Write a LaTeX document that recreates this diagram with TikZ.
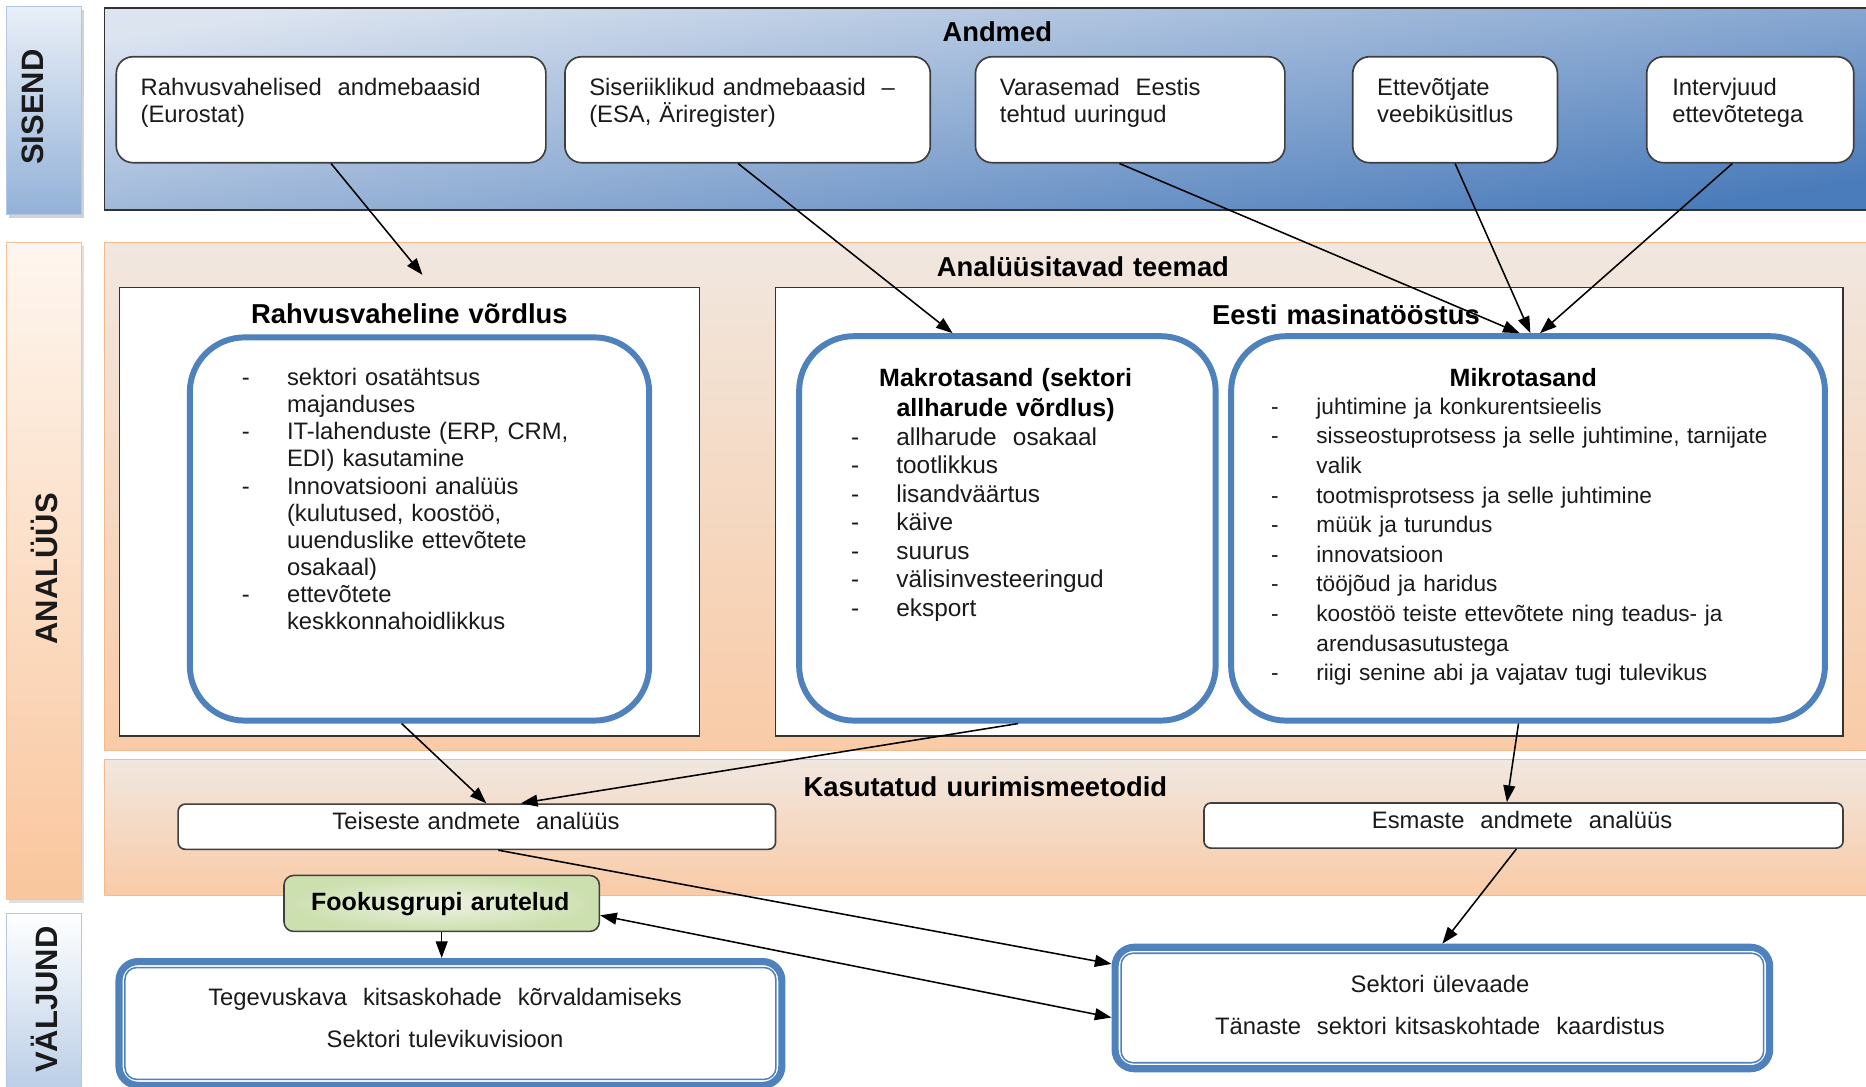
\documentclass[tikz,border=0pt]{standalone}
\usepackage{fontspec}
\setmainfont{Liberation Sans}
\usetikzlibrary{arrows.meta,calc,shadows}
\definecolor{txt}{HTML}{1A1A1A}
\definecolor{bord}{HTML}{3F3F3F}
\definecolor{accblue}{HTML}{4F81BD}
\definecolor{bandtop}{HTML}{DCE4F0}
\definecolor{bandmid}{HTML}{AFC2DD}
\definecolor{bandbot}{HTML}{4A7BBA}
\definecolor{sisTop}{HTML}{E9EFF7}
\definecolor{sisBot}{HTML}{92B1D8}
\definecolor{sisBord}{HTML}{B4C7E2}
\definecolor{anTop}{HTML}{FEF6EF}
\definecolor{anBot}{HTML}{F9C69D}
\definecolor{anBord}{HTML}{F7C29A}
\definecolor{panTop}{HTML}{F1E7DF}
\definecolor{panBot}{HTML}{F9CBA7}
\definecolor{panBord}{HTML}{F5B98C}
\definecolor{valTop}{HTML}{FFFFFF}
\definecolor{valBot}{HTML}{B5CAE5}
\definecolor{fookIn}{HTML}{EDF3E2}
\definecolor{fookOut}{HTML}{CCDFAE}
\newcommand{\dsh}{\makebox[38pt][l]{-}}
\newcommand{\ind}{\hspace*{38pt}}
\begin{document}
\begin{tikzpicture}[x=1pt,y=-1pt,
  sidelab/.style={anchor=north west, inner sep=0, line width=1pt},
  sidetxt/.style={rotate=90, font=\bfseries\fontsize{26}{30}\selectfont, text=txt, inner sep=0},
  panel/.style={anchor=north west, inner sep=0, draw=panBord, line width=1pt, top color=panTop, bottom color=panBot},
  inbox/.style={anchor=north west, inner sep=0, draw=bord, line width=1.4pt, fill=white, rounded corners=14pt},
  whitebox/.style={anchor=north west, inner sep=0, draw=black!80, line width=1.2pt, fill=white},
  bluebox/.style={anchor=north west, inner sep=0, draw=accblue, line width=5pt, fill=white, rounded corners=46pt},
  methbox/.style={anchor=north west, inner sep=0, draw=bord, line width=1.4pt, fill=white, rounded corners=6pt},
  outbox/.style={anchor=north west, inner sep=0, draw=accblue, line width=6pt, fill=white, rounded corners=16pt},
  outinner/.style={draw=accblue, line width=1.3pt, rounded corners=10pt},
  body/.style={inner sep=0, text=txt, font=\fontsize{20}{23}\selectfont, text width=430pt, align=left, anchor=base west},
  ctext/.style={inner sep=0, text=txt, font=\fontsize{20}{23}\selectfont, text width=500pt, align=center, anchor=base},
  ttl/.style={inner sep=0, text=black, font=\bfseries\fontsize{23}{27}\selectfont, text width=500pt, align=center, anchor=base},
  arr/.style={draw=black, line width=1.3pt, -{Triangle[length=14pt,width=10pt]}},
  arrboth/.style={draw=black, line width=1.3pt, {Triangle[length=14pt,width=10pt]}-{Triangle[length=14pt,width=10pt]}},
]
\useasboundingbox (0,0) rectangle (1568,913);
\fill[white] (0,0) rectangle (1568,913);

% side labels
\node[sidelab, minimum width=63, minimum height=175, draw=sisBord, top color=sisTop, bottom color=sisBot, drop shadow={opacity=0.35,shadow xshift=2pt,shadow yshift=-3pt}] (sisbox) at (5,5) {};
\node[sidetxt] (sistxt) at (28,90) {SISEND};
\node[sidelab, minimum width=63, minimum height=552, draw=anBord, top color=anTop, bottom color=anBot, drop shadow={opacity=0.25,shadow xshift=2pt,shadow yshift=-3pt}] (anbox) at (5,203) {};
\node[sidetxt] (antxt) at (37,478) {ANALÜÜS};
\node[sidelab, minimum width=63, minimum height=160, draw=sisBord, top color=valTop, bottom color=valBot] (valbox) at (5,767) {};
\node[sidetxt] (valtxt) at (37,840) {VÄLJUND};

% top band
\node[anchor=north west, inner sep=0, minimum width=1490, minimum height=170, draw=black!80, line width=1.5pt, top color=bandtop, middle color=bandmid, bottom color=bandbot, shading angle=9] (band) at (87,6) {};
\node[ttl] (andmed) at (838,35) {Andmed};

\node[inbox, minimum width=361, minimum height=89] (in1) at (97,47) {};
\node[body] (in1t) at (118,80) {Rahvusvahelised\ \ andmebaasid\\(Eurostat)};
\node[inbox, minimum width=307, minimum height=89] (in2) at (474,47) {};
\node[body] (in2t) at (495,80) {Siseriiklikud andmebaasid\ \ --\\(ESA, Äriregister)};
\node[inbox, minimum width=260, minimum height=89] (in3) at (819,47) {};
\node[body] (in3t) at (840,80) {Varasemad\ \ Eestis\\tehtud uuringud};
\node[inbox, minimum width=172, minimum height=89] (in4) at (1136,47) {};
\node[body] (in4t) at (1157,80) {Ettevõtjate\\veebiküsitlus};
\node[inbox, minimum width=174, minimum height=89] (in5) at (1383,47) {};
\node[body] (in5t) at (1405,80) {Intervjuud\\ettevõtetega};

% analysis panels
\node[panel, minimum width=1490, minimum height=427] (panA) at (87,203) {};
\node[ttl] (panAt) at (910,232) {Analüüsitavad teemad};
\node[panel, minimum width=1490, minimum height=114] (panB) at (87,638) {};
\node[ttl] (panBt) at (828,669) {Kasutatud uurimismeetodid};

\node[whitebox, minimum width=487, minimum height=377] (rahvw) at (100,241) {};
\node[ttl] (rahvt) at (344,272) {Rahvusvaheline võrdlus};
\node[whitebox, minimum width=897, minimum height=377] (eestiw) at (651,241) {};
\node[ttl] (eestit) at (1131,273) {Eesti masinatööstus};

\node[bluebox, minimum width=386, minimum height=322] (rahvb) at (157,281) {};
\node[bluebox, minimum width=350, minimum height=323] (makro) at (669,280) {};
\node[bluebox, minimum width=499, minimum height=323] (mikro) at (1032,280) {};

\node[body, font=\fontsize{20}{22.8}\selectfont] (rahvl) at (203,324) {\dsh sektori osatähtsus\\\ind majanduses\\\dsh IT-lahenduste (ERP, CRM,\\\ind EDI) kasutamine\\\dsh Innovatsiooni analüüs\\\ind (kulutused, koostöö,\\\ind uuenduslike ettevõtete\\\ind osakaal)\\\dsh ettevõtete\\\ind keskkonnahoidlikkus};

\node[ttl, font=\bfseries\fontsize{21}{25}\selectfont] (makrot) at (845,325) {Makrotasand (sektori\\allharude võrdlus)};
\node[body, font=\fontsize{20.5}{24}\selectfont] (makrol) at (715,374) {\dsh allharude\ \ osakaal\\\dsh tootlikkus\\\dsh lisandväärtus\\\dsh käive\\\dsh suurus\\\dsh välisinvesteeringud\\\dsh eksport};

\node[ttl, font=\bfseries\fontsize{21}{25}\selectfont] (mikrot) at (1280,325) {Mikrotasand};
\node[body, font=\fontsize{19}{24.9}\selectfont] (mikrol) at (1068,348) {\dsh juhtimine ja konkurentsieelis\\\dsh sisseostuprotsess ja selle juhtimine, tarnijate\\\ind valik\\\dsh tootmisprotsess ja selle juhtimine\\\dsh müük ja turundus\\\dsh innovatsioon\\\dsh tööjõud ja haridus\\\dsh koostöö teiste ettevõtete ning teadus- ja\\\ind arendusasutustega\\\dsh riigi senine abi ja vajatav tugi tulevikus};

% methods
\node[methbox, minimum width=502, minimum height=38] (teis) at (149,675) {};
\node[ctext] (teist) at (400,697) {Teiseste andmete\ \ analüüs};
\node[methbox, minimum width=537, minimum height=38] (esm) at (1011,674) {};
\node[ctext] (esmt) at (1279,696) {Esmaste\ \ andmete\ \ analüüs};

\node[anchor=north west, inner sep=0, minimum width=265, minimum height=47, draw=bord, line width=1.3pt, rounded corners=8pt, inner color=fookIn, outer color=fookOut] (fook) at (238,735) {};
\node[ttl, font=\bfseries\fontsize{21}{25}\selectfont] (fookt) at (370,765) {Fookusgrupi arutelud};

% outputs
\node[outbox, minimum width=557, minimum height=104] (out1) at (97,805) {};
\draw[outinner] ($(out1.north west)+(8,8)$) rectangle ($(out1.south east)+(-8,-8)$);
\node[ctext] (out1a) at (374,845) {Tegevuskava\ \ kitsaskohade\ \ kõrvaldamiseks};
\node[ctext] (out1b) at (374,880) {Sektori tulevikuvisioon};
\node[outbox, minimum width=550, minimum height=102] (out2) at (934,793) {};
\draw[outinner] ($(out2.north west)+(8,8)$) rectangle ($(out2.south east)+(-8,-8)$);
\node[ctext] (out2a) at (1210,834) {Sektori ülevaade};
\node[ctext] (out2b) at (1210,869) {Tänaste\ \ sektori kitsaskohtade\ \ kaardistus};

% connectors
\coordinate (rahvin) at (355,231);
\draw[arr] (in1.south) -- (rahvin);
\draw[arr] ($(in2.south)+(-8,0)$) -- ($(makro.north)+(-46,0)$);
\draw[arr] ($(in3.south)+(-9,0)$) -- ($(mikro.north)+(-7,0)$);
\draw[arr] (in4.south) -- ($(mikro.north)+(2,0)$);
\draw[arr] ($(in5.south)+(-15,0)$) -- ($(mikro.north)+(10,0)$);
\draw[arr] ($(rahvb.south)+(-15,0)$) -- ($(teis.north)+(8,0)$);
\draw[arr] ($(makro.south)+(9,0)$) -- ($(teis.north)+(37,0)$);
\draw[arr] ($(mikro.south)+(-8,0)$) -- ($(esm.north)+(-14,0)$);
\draw[arr] ($(teis.south)+(18,0)$) -- ($(out2.west)+(0,-37)$);
\draw[arrboth] ($(fook.east)+(0,10)$) -- ($(out2.west)+(0,8)$);
\draw[arr] ($(esm.south)+(-6,0)$) -- (out2.north);
\draw[arr] (fook.south) -- (fook.south |- out1.north);
\end{tikzpicture}
\end{document}
